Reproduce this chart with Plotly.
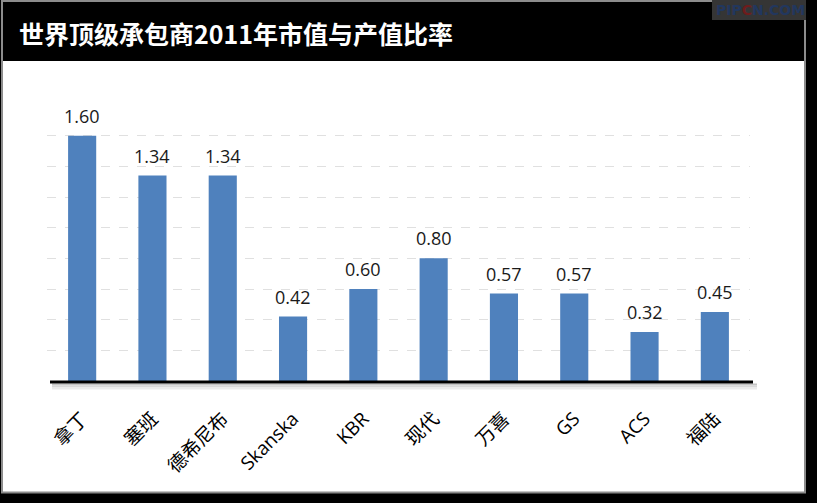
import plotly.graph_objects as go

categories = ["拿丁", "塞班", "德希尼布", "Skanska", "KBR", "现代", "万喜", "GS", "ACS", "福陆"]
ratios = [1.60, 1.34, 1.34, 0.42, 0.60, 0.80, 0.57, 0.57, 0.32, 0.45]
title_text = "世界顶级承包商2011年市值与产值比率"

W, H = 817, 503
L, R, T, B = 47, 67, 105, 122
PW, PH = W - L - R, H - T - B


def px(x):
    return (x - L) / PW


def py(y):
    return (H - B - y) / PH


fig = go.Figure()
fig.add_trace(go.Bar(
    x=categories, y=ratios, width=0.4,
    marker=dict(color="#4F81BD", line=dict(width=0)),
    hoverinfo="skip",
))

shapes = []
shapes.append(dict(type="rect", xref="paper", yref="paper", layer="below",
                   x0=px(2), x1=px(805), y0=py(61), y1=py(493),
                   fillcolor="white", line=dict(width=0)))
shapes.append(dict(type="rect", xref="paper", yref="paper", layer="below",
                   x0=px(2), x1=px(805), y0=py(1), y1=py(61),
                   fillcolor="black", line=dict(width=0)))
shapes.append(dict(type="rect", xref="paper", yref="paper", layer="above",
                   x0=px(2), x1=px(805), y0=py(1), y1=py(492.5),
                   fillcolor="rgba(0,0,0,0)", line=dict(color="#8c8c8c", width=2)))
shapes.append(dict(type="rect", xref="paper", yref="paper", layer="above",
                   x0=px(712), x1=px(806), y0=py(0), y1=py(20),
                   fillcolor="#353535", line=dict(width=0)))
for yy, col in [(384.5, "#c4c4c4"), (386.5, "#d8d8d8"), (388.5, "#ebebeb")]:
    shapes.append(dict(type="line", xref="paper", yref="paper", layer="above",
                       x0=px(52), x1=px(757), y0=py(yy), y1=py(yy),
                       line=dict(color=col, width=2)))
shapes.append(dict(type="line", xref="paper", yref="paper", layer="above",
                   x0=px(50), x1=px(753), y0=py(382), y1=py(382),
                   line=dict(color="black", width=3)))

annotations = []
annotations.append(dict(text=title_text, xref="paper", yref="paper",
                        x=px(17), y=py(33), xanchor="left", yanchor="middle",
                        showarrow=False,
                        font=dict(family="Noto Sans CJK SC", size=25, color="white",
                                  weight="bold")))
annotations.append(dict(text="PIP<span style='color:#6e1c1c'>C</span>N.COM",
                        xref="paper", yref="paper",
                        x=px(760), y=py(10), xanchor="center", yanchor="middle",
                        showarrow=False,
                        font=dict(family="DejaVu Sans", size=14, color="#22375e", weight="bold")))
for c, v in zip(categories, ratios):
    annotations.append(dict(text=f"{v:.2f}", x=c, y=v, xref="x", yref="y",
                            xanchor="center", yanchor="bottom", yshift=6,
                            showarrow=False,
                            font=dict(family="Open Sans, Noto Sans", size=18, color="#1a1a1a")))

fig.update_layout(
    width=W, height=H,
    margin=dict(l=L, r=R, t=T, b=B, pad=0),
    paper_bgcolor="black", plot_bgcolor="rgba(0,0,0,0)",
    showlegend=False,
    shapes=shapes, annotations=annotations,
    xaxis=dict(type="category", tickangle=-45, showgrid=False, showline=False,
               zeroline=False, ticks="", ticklabelstandoff=22,
               tickfont=dict(family="Open Sans, Noto Sans CJK SC", size=19, color="black")),
    yaxis=dict(range=[0, 1.8], dtick=0.2, showgrid=True, gridcolor="#e0e0e0",
               griddash="dash", gridwidth=1, zeroline=False, showline=False,
               showticklabels=False, ticks=""),
    bargap=0.6,
)

fig.write_html("out.html", config={"displayModeBar": False},
               post_script="document.body.style.margin='0';document.body.style.overflow='hidden';")
